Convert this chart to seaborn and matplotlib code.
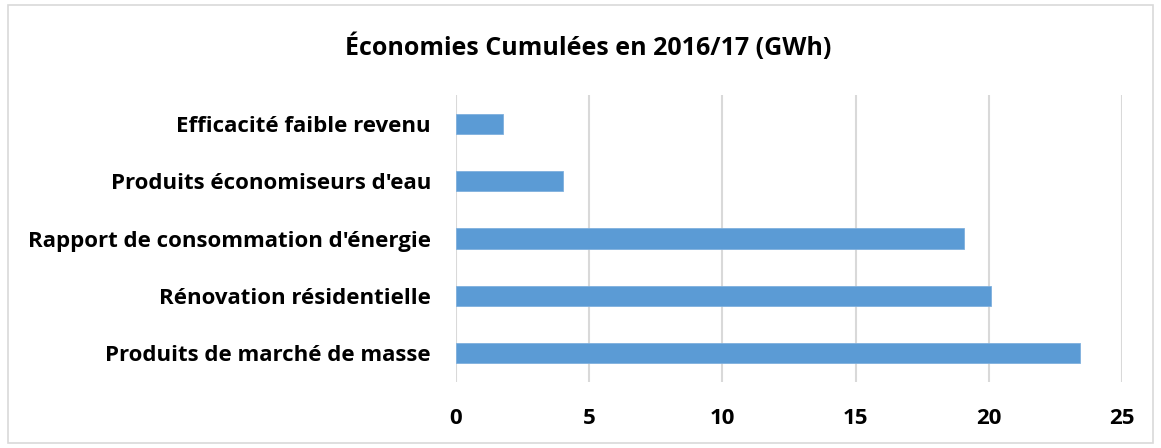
import matplotlib
matplotlib.use("Agg")
import matplotlib.pyplot as plt
import seaborn as sns
import pandas as pd
from matplotlib.patches import Rectangle

categories = ["Efficacité faible revenu", "Produits économiseurs d'eau",
              "Rapport de consommation d'énergie", "Rénovation résidentielle",
              "Produits de marché de masse"]
values = [1.78, 4.03, 19.07, 20.08, 23.42]
xticks = [0, 5, 10, 15, 20, 25]
title = "Économies Cumulées en 2016/17 (GWh)"

sns.set_theme(style="white")
plt.rcParams['font.family'] = ['Open Sans', 'DejaVu Sans']

df = pd.DataFrame({"cat": categories, "val": values})

fig = plt.figure(figsize=(11.61, 4.48), dpi=100)
ax = fig.add_axes([456/1161, 1-382/448, (1122-456)/1161, (382-95)/448])

sns.barplot(data=df, y="cat", x="val", orient="h", color="#5B9BD5",
            saturation=1, width=0.35, ax=ax, edgecolor="#7FB0DE", linewidth=0.6, zorder=3)

ax.set_xlim(0, 25)
ax.set_ylim(4.5, -0.5)
ax.set_xticks(xticks)
ax.set_xticklabels([str(t) for t in xticks], fontsize=16, fontweight="bold", color="black")
ax.tick_params(axis="x", length=0, pad=19)
ax.tick_params(axis="y", length=0, pad=18)
for lbl in ax.get_yticklabels():
    lbl.set_fontsize(16)
    lbl.set_fontweight("bold")
    lbl.set_color("black")
ax.set_xlabel("")
ax.set_ylabel("")
ax.grid(axis="x", color="#D9D9D9", linewidth=1.5, zorder=0)
ax.grid(axis="y", visible=False)
for s in ax.spines.values():
    s.set_visible(False)

fig.text(588/1161, 1-47/448, title, ha="center", va="center", fontsize=18,
         fontweight="bold", color="black")

fig.patches.append(Rectangle((8/1161, 5/448), (1153-8)/1161, (443-5)/448,
                             transform=fig.transFigure, fill=False,
                             edgecolor="#D9D9D9", linewidth=1.2))

fig.savefig("out.png", dpi=100)
